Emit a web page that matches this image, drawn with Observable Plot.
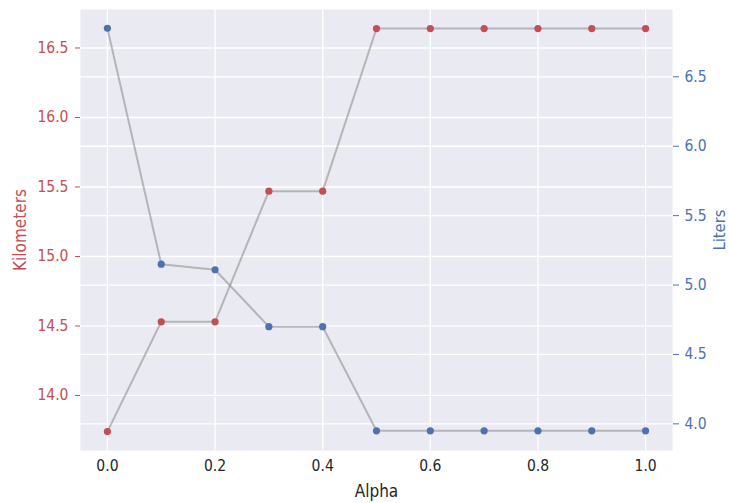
<!DOCTYPE html>
<html>
<head>
<meta charset="utf-8">
<script src="https://cdn.jsdelivr.net/npm/d3@7"></script>
<script src="https://cdn.jsdelivr.net/npm/@observablehq/plot@0.6"></script>
<style>
  html, body { margin: 0; padding: 0; background: white; }
</style>
</head>
<body>
<div id="chart"></div>
<script>
const alpha = [0.0, 0.1, 0.2, 0.3, 0.4, 0.5, 0.6, 0.7, 0.8, 0.9, 1.0];
const kilometers = [13.74, 14.53, 14.53, 15.47, 15.47, 16.64, 16.64, 16.64, 16.64, 16.64, 16.64];
const liters = [6.85, 5.15, 5.11, 4.70, 4.70, 3.95, 3.95, 3.95, 3.95, 3.95, 3.95];

const xTicks = [0.0, 0.2, 0.4, 0.6, 0.8, 1.0];
const kmTicks = [14.0, 14.5, 15.0, 15.5, 16.0, 16.5];
const literTicks = [4.0, 4.5, 5.0, 5.5, 6.0, 6.5];

const kmDomain = [13.604, 16.777];
const literDomain = [3.808, 6.985];

const toKm = L => kmDomain[0] + (L - literDomain[0]) * (kmDomain[1] - kmDomain[0]) / (literDomain[1] - literDomain[0]);
const fromKm = k => literDomain[0] + (k - kmDomain[0]) * (literDomain[1] - literDomain[0]) / (kmDomain[1] - kmDomain[0]);

const data = alpha.map((a, i) => ({alpha: a, km: kilometers[i], litersKm: toKm(liters[i])}));

const RED = "#c44e52", BLUE = "#4c72b0", DARK = "#262626";

const chart = Plot.plot({
  width: 729,
  height: 503,
  marginLeft: 80,
  marginRight: 57,
  marginTop: 9,
  marginBottom: 53,
  style: {fontFamily: "'DejaVu Sans Condensed', 'DejaVu Sans', sans-serif", fontSize: "15.5px", background: "white"},
  x: {domain: [-0.05, 1.05]},
  y: {domain: kmDomain},
  marks: [
    Plot.frame({fill: "#eaeaf2"}),
    Plot.gridX(xTicks, {stroke: "white", strokeOpacity: 1, strokeWidth: 1.3}),
    Plot.gridY(kmTicks, {stroke: "white", strokeOpacity: 1, strokeWidth: 1.3}),
    Plot.gridY(literTicks.map(toKm), {stroke: "white", strokeOpacity: 1, strokeWidth: 1.3}),
    Plot.axisX(xTicks, {tickSize: 0, tickPadding: 9, tickFormat: d => d.toFixed(1), label: null, color: DARK}),
    Plot.axisY(kmTicks, {anchor: "left", tickSize: 5, tickPadding: 7, tickFormat: d => d.toFixed(1), label: null, color: RED}),
    Plot.axisY(literTicks.map(toKm), {anchor: "right", tickSize: 6, tickPadding: 6, tickFormat: d => fromKm(d).toFixed(1), label: null, color: BLUE}),
    Plot.line(data, {x: "alpha", y: "km", stroke: "gray", strokeOpacity: 0.5, strokeWidth: 2}),
    Plot.dot(data, {x: "alpha", y: "km", fill: RED, r: 3.6}),
    Plot.line(data, {x: "alpha", y: "litersKm", stroke: "gray", strokeOpacity: 0.5, strokeWidth: 2}),
    Plot.dot(data, {x: "alpha", y: "litersKm", fill: BLUE, r: 3.6}),
    Plot.text(["Kilometers"], {frameAnchor: "left", textAnchor: "middle", lineAnchor: "middle", dx: -60, rotate: -90, fill: RED, fontSize: 17}),
    Plot.text(["Liters"], {frameAnchor: "right", textAnchor: "middle", lineAnchor: "middle", dx: 47, rotate: -90, fill: BLUE, fontSize: 16.5}),
    Plot.text(["Alpha"], {frameAnchor: "bottom", textAnchor: "middle", lineAnchor: "middle", dy: 41, fill: DARK, fontSize: 17})
  ]
});
document.getElementById("chart").appendChild(chart);
</script>
</body>
</html>
